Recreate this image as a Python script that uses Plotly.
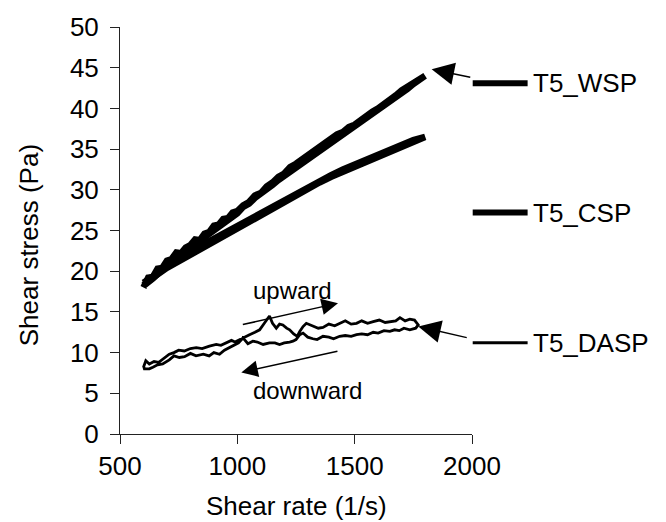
import plotly.graph_objects as go

# ---- data ----
wsp_rate = [600, 620, 640, 660, 680, 700, 720, 740, 760, 780, 800, 820, 840, 860, 880, 900, 920, 940, 960, 980,
            1000, 1025, 1050, 1075, 1100, 1125, 1150, 1175, 1200, 1225, 1250, 1275, 1300, 1325, 1350, 1375, 1400,
            1425, 1450, 1475, 1500, 1525, 1550, 1575, 1600, 1625, 1650, 1675, 1700, 1725, 1750, 1775, 1800,
            1775, 1750, 1725, 1700, 1675, 1650, 1625, 1600, 1575, 1550, 1525, 1500, 1475, 1450, 1425, 1400,
            1375, 1350, 1325, 1300, 1275, 1250, 1225, 1200, 1175, 1150, 1125, 1100, 1075, 1050, 1025, 1000,
            960, 920, 880, 840, 800, 760, 720, 680, 640, 600]
wsp_stress = [18.0, 19.2, 19.3, 20.3, 20.4, 21.3, 21.5, 22.3, 22.2, 22.9, 23.2, 23.9, 23.8, 24.6, 24.8, 25.6, 25.7, 26.4, 26.5, 27.2,
              27.4, 28.1, 28.5, 29.3, 29.6, 30.4, 30.9, 31.6, 32.0, 32.8, 33.2, 33.7, 34.3, 34.9, 35.3, 35.9, 36.2,
              36.8, 37.1, 37.7, 38.0, 38.6, 39.0, 39.6, 40.0, 40.5, 40.9, 41.6, 42.2, 42.6, 43.1, 43.6, 44.0,
              43.4, 43.0, 42.4, 41.9, 41.4, 40.8, 40.2, 39.7, 39.2, 38.8, 38.2, 37.8, 37.2, 36.9, 36.3, 35.9,
              35.3, 34.9, 34.2, 33.8, 33.2, 32.8, 32.3, 31.7, 31.2, 30.6, 30.1, 29.5, 29.0, 28.3, 27.9, 27.1,
              26.3, 25.4, 24.6, 23.6, 22.8, 22.0, 21.0, 20.2, 19.1, 18.2]

csp_rate = [600, 650, 700, 750, 800, 850, 900, 950, 1000, 1050, 1100, 1150, 1200, 1250, 1300, 1350, 1400,
            1450, 1500, 1550, 1600, 1650, 1700, 1750, 1800,
            1750, 1700, 1650, 1600, 1550, 1500, 1450, 1400, 1350, 1300, 1250, 1200, 1150, 1100, 1050, 1000,
            950, 900, 850, 800, 750, 700, 650, 600]
csp_stress = [18.6, 19.6, 20.6, 21.5, 22.4, 23.2, 24.0, 24.8, 25.5, 26.3, 27.1, 27.9, 28.7, 29.5, 30.3, 31.0, 31.8,
              32.5, 33.1, 33.8, 34.4, 35.0, 35.6, 36.1, 36.5,
              35.9, 35.4, 34.8, 34.2, 33.6, 33.0, 32.3, 31.6, 30.9, 30.1, 29.3, 28.5, 27.7, 26.9, 26.1, 25.3,
              24.6, 23.8, 23.0, 22.2, 21.3, 20.4, 19.4, 18.3]

dasp_rate = [600, 610, 625, 645, 665, 690, 710, 730, 750, 774, 800, 825, 850, 881, 910, 930, 952, 975, 990, 1009,
             1030, 1052, 1075, 1095, 1115, 1137, 1150, 1166, 1180, 1194, 1210, 1223, 1240, 1255, 1266, 1280, 1294,
             1320, 1345, 1365, 1390, 1415, 1436, 1460, 1485, 1508, 1530, 1555, 1579, 1605, 1630, 1650, 1675, 1693,
             1715, 1735, 1755, 1771,
             1760, 1735, 1710, 1690, 1670, 1650, 1625, 1600, 1579, 1555, 1530, 1508, 1485, 1460, 1436, 1410, 1390,
             1365, 1340, 1322, 1300, 1280, 1266, 1250, 1237, 1223, 1200, 1180, 1160, 1137, 1110, 1085, 1066, 1045,
             1024, 1005, 985, 967, 945, 924, 900, 880, 855, 824, 800, 775, 753, 730, 710, 682, 660, 640, 625, 604, 600]
dasp_stress = [8.2, 9.0, 8.6, 8.9, 8.8, 9.4, 9.8, 10.0, 10.3, 10.2, 10.5, 10.6, 10.5, 10.8, 11.0, 10.9, 11.2, 11.5, 11.3, 11.6,
               11.9, 12.2, 12.5, 12.8, 13.6, 14.5, 13.6, 13.0, 13.5, 13.4, 13.0, 12.8, 12.3, 12.0, 12.6, 13.2, 13.6,
               13.3, 13.0, 13.1, 13.5, 13.3, 13.6, 13.9, 13.5, 13.6, 13.9, 13.6, 13.8, 14.0, 13.7, 13.8, 13.9, 14.3,
               13.9, 14.1, 14.0, 13.4,
               13.0, 12.8, 13.0, 12.7, 12.8, 12.6, 12.7, 12.4, 12.5, 12.2, 12.3, 12.2, 12.0, 12.1, 12.0, 11.7, 11.9,
               12.0, 11.6, 11.7, 11.9, 12.4, 12.2, 11.6, 11.4, 11.3, 11.2, 11.0, 11.2, 11.2, 11.0, 11.3, 11.4, 11.1,
               11.8, 11.2, 10.9, 10.6, 10.3, 9.8, 10.0, 9.6, 9.8, 9.6, 9.9, 9.5, 9.4, 9.6, 9.1, 8.6, 8.5, 8.2, 8.0, 8.0, 8.4]

series_names = ["T5_WSP", "T5_CSP", "T5_DASP"]
x_ticks = [500, 1000, 1500, 2000]
y_ticks = [0, 5, 10, 15, 20, 25, 30, 35, 40, 45, 50]

FONT = "Liberation Sans, Arial, sans-serif"

fig = go.Figure()
fig.add_trace(go.Scatter(x=wsp_rate, y=wsp_stress, mode="lines", name=series_names[0],
                         line=dict(color="black", width=6.5), showlegend=False))
fig.add_trace(go.Scatter(x=csp_rate, y=csp_stress, mode="lines", name=series_names[1],
                         line=dict(color="black", width=6.5), showlegend=False))
fig.add_trace(go.Scatter(x=dasp_rate, y=dasp_stress, mode="lines", name=series_names[2],
                         line=dict(color="black", width=2.8), showlegend=False))

# legend-like items on the right
legend_y = [0.862, 0.544, 0.224]
legend_w = [6, 6, 3]
shapes = []
annotations = []
for nm, yy, lw in zip(series_names, legend_y, legend_w):
    shapes.append(dict(type="line", xref="paper", yref="paper", x0=1.002, x1=1.158, y0=yy, y1=yy,
                       line=dict(color="black", width=lw)))
    annotations.append(dict(xref="paper", yref="paper", x=1.168, y=yy, text=nm, showarrow=False,
                            xanchor="left", yanchor="middle", font=dict(size=26, family=FONT, color="black")))

# arrows
arrow_specs = [
    (1429, 16.07, 1017, 13.4, 2, 2.2),
    (1017, 7.57, 1433, 10.2, 2, 2.2),
    (1828, 44.8, 1999, 43.8, 2, 3.0),
    (1771, 13.2, 1984, 11.8, 2, 3.0),
]
for hx, hy, tx, ty, ah, asz in arrow_specs:
    annotations.append(dict(x=hx, y=hy, ax=tx, ay=ty, xref="x", yref="y", axref="x", ayref="y",
                            text="", showarrow=True, arrowhead=ah, arrowsize=asz, arrowwidth=1.5,
                            arrowcolor="black", standoff=0, startstandoff=0))

annotations.append(dict(x=1233, y=17.6, xref="x", yref="y", text="upward", showarrow=False,
                        font=dict(size=24, family=FONT, color="black")))
annotations.append(dict(x=1301, y=5.3, xref="x", yref="y", text="downward", showarrow=False,
                        font=dict(size=24, family=FONT, color="black")))

# axis titles
annotations.append(dict(xref="paper", yref="paper", x=0.5, y=-0.177, text="Shear rate (1/s)",
                        showarrow=False, xanchor="center", yanchor="middle",
                        font=dict(size=26, family=FONT, color="black")))
annotations.append(dict(xref="paper", yref="paper", x=-0.26, y=0.465, text="Shear stress (Pa)",
                        showarrow=False, xanchor="center", yanchor="middle", textangle=-90,
                        font=dict(size=26, family=FONT, color="black")))

fig.update_layout(
    width=666, height=522,
    margin=dict(l=120, r=194, t=22, b=88),
    paper_bgcolor="white", plot_bgcolor="white",
    font=dict(family=FONT, size=26, color="black"),
    shapes=shapes, annotations=annotations,
    showlegend=False,
)
fig.update_xaxes(range=[500, 2000], tickvals=x_ticks, ticks="outside", ticklen=9, tickwidth=1,
                 tickcolor="#222", showline=True, linecolor="#222", linewidth=1, showgrid=False,
                 zeroline=False, tickfont=dict(size=26, family=FONT, color="black"))
fig.update_yaxes(range=[0, 50], tickvals=y_ticks, ticks="outside", ticklen=9, tickwidth=1,
                 tickcolor="#222", showline=True, linecolor="#222", linewidth=1, showgrid=False,
                 zeroline=False, ticklabelstandoff=6, tickfont=dict(size=26, family=FONT, color="black"))

fig.write_html("out.html")
